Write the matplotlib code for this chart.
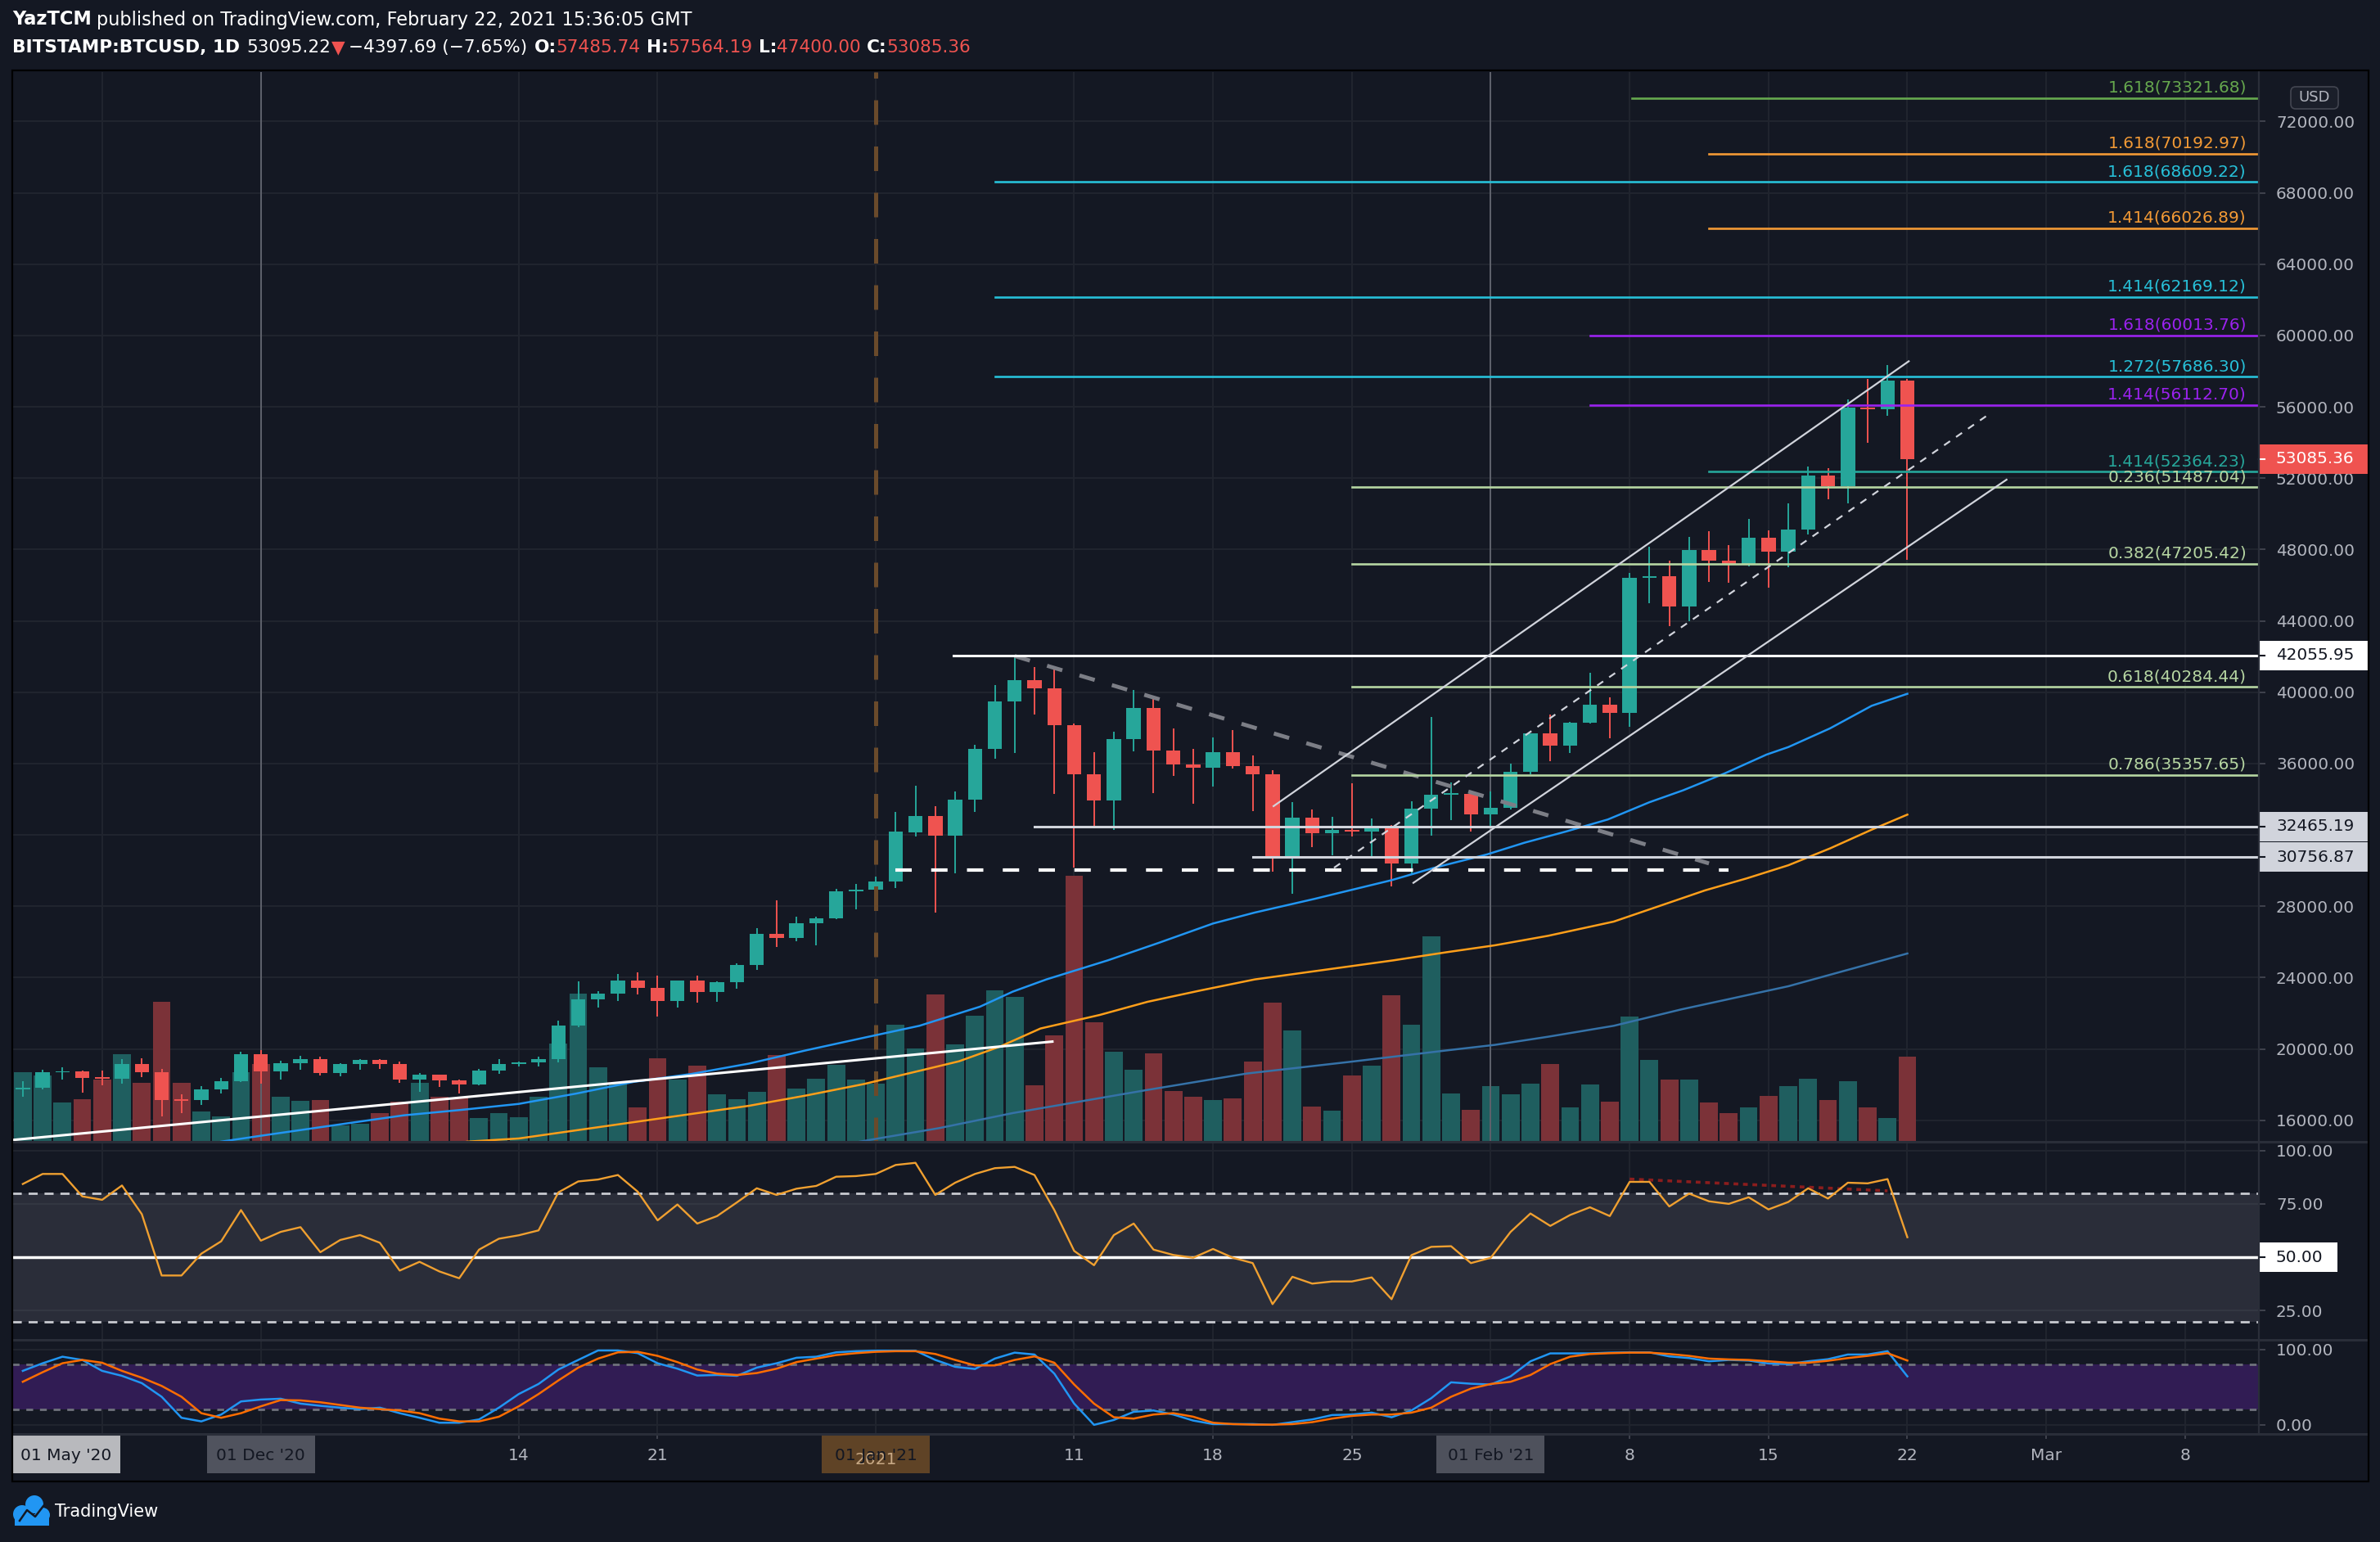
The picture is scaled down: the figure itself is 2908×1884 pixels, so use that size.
import numpy as np
import pandas as pd
import matplotlib
matplotlib.use("Agg")
import matplotlib.pyplot as plt
import matplotlib.transforms as mtransforms
from matplotlib.patches import Rectangle, FancyBboxPatch, Circle
from matplotlib.lines import Line2D

# ------------------------------------------------------------------ data
start_date = "2020-11-19"
end_date = "2021-02-22"
ref_date = "2021-01-01"

opens = [17780, 17802, 18687, 18750, 18382, 18336, 19145, 18715, 17145, 17115, 17725, 18183,
         19695, 18748, 19210, 19420, 18657, 19145, 19374, 19170, 18290, 18534, 18230, 18015, 18800, 19145, 19267, 19420,
         21330, 22790, 23110, 23817, 23430, 22672, 23817, 23176, 23725, 24687, 26440, 26198, 27023, 27343, 28855,
         28947, 29380, 32150, 33050, 31950, 33990, 36820, 39500, 40670, 40230, 38150, 35400, 33950, 37380, 39130, 36730,
         35943, 35760, 36640, 35860, 35420, 30800, 32980, 32080, 32260, 32200, 32430, 30400, 33460, 34250, 34300,
         33135, 33515, 35530, 37680, 36985, 38310, 39300, 38830, 46410, 46500, 44810, 47966, 47380, 47200, 48640, 47880,
         49125, 52150, 51560, 55960, 55880, 57486]
highs = [18183, 18825, 18977, 18780, 18780, 19405, 19466, 18900, 17450, 17908, 18366, 19832,
         19924, 19328, 19619, 19557, 19206, 19420, 19420, 19283, 18641, 18570, 18290, 18871, 19405, 19300, 19557, 21573,
         23770, 23252, 24183, 24275, 24092, 23830, 24092, 23770, 24779, 26779, 28351, 27435, 27400, 28992, 29267,
         29680, 33300, 34760, 33620, 34450, 37030, 40400, 42055, 41410, 41470, 38220, 36630, 37780, 40135, 39750, 37955,
         36800, 37450, 37860, 36430, 35605, 33854, 33440, 33010, 34900, 32930, 32565, 33860, 38600, 34920, 34330,
         34420, 35980, 37700, 38735, 38330, 41066, 39720, 46705, 48177, 47380, 48703, 49020, 48240, 49713, 49060, 50575,
         52637, 52553, 56424, 57540, 58338, 57564]
lows = [17328, 17725, 18290, 17542, 17954, 18030, 18412, 16200, 16412, 16840, 17500, 18153,
        18061, 18290, 18825, 18519, 18458, 18840, 18886, 18107, 17603, 17878, 17496, 17970, 18611, 19000, 19023, 19252,
        21237, 22305, 22672, 23038, 21802, 22305, 22580, 22641, 23374, 24412, 25695, 26015, 25786, 27252, 27847,
        28620, 29000, 31920, 27650, 29850, 33270, 36260, 36600, 38750, 34300, 30185, 32455, 32257, 36680, 34330, 35298,
        33760, 34730, 35700, 33350, 29950, 28694, 31336, 30875, 31890, 30735, 29130, 29845, 31960, 32830, 32190,
        32400, 33410, 35400, 36140, 36600, 38250, 37405, 38038, 44980, 43717, 43970, 46180, 46115, 47060, 45860, 47000,
        48850, 50806, 50596, 53960, 55477, 47400]
closes = [17802, 18687, 18750, 18382, 18336, 19145, 18715, 17145, 17115, 17725, 18183, 19695,
          18748, 19210, 19420, 18657, 19145, 19374, 19170, 18290, 18534, 18230, 18015, 18800, 19145, 19267, 19420, 21330,
          22790, 23110, 23817, 23430, 22672, 23817, 23176, 23725, 24687, 26440, 26198, 27023, 27343, 28855, 28947,
          29380, 32200, 33050, 31950, 33990, 36820, 39500, 40670, 40230, 38150, 35400, 33950, 37380, 39130, 36730, 35943,
          35760, 36640, 35860, 35420, 30800, 32980, 32080, 32260, 32200, 32430, 30400, 33460, 34250, 34320, 33135,
          33515, 35530, 37680, 36985, 38310, 39300, 38830, 46410, 46500, 44810, 47966, 47380, 47200, 48640, 47880, 49125,
          52150, 51560, 55960, 55880, 57486, 53085]
volumes = [46.0, 43.8, 26.1, 28.2, 41.2, 57.9, 39.0, 92.4, 39.0, 20.1, 16.9, 46.0,
           51.4, 29.8, 27.1, 27.7, 11.0, 11.7, 19.0, 26.6, 39.0, 29.8, 29.3, 15.8, 19.0, 16.4, 29.8, 64.9,
           97.8, 49.2, 38.5, 22.8, 55.2, 41.2, 50.3, 31.4, 28.2, 33.1, 57.3, 35.2, 41.7, 50.9, 41.2,
           38.5, 77.3, 61.6, 97.2, 64.3, 83.2, 99.9, 95.6, 37.4, 70.3, 175.4, 78.9, 59.5, 47.6, 58.4, 33.6,
           29.8, 27.7, 28.8, 53.0, 91.8, 73.5, 23.4, 20.7, 43.8, 50.3, 96.7, 77.3, 135.5, 32.0, 21.2,
           36.8, 31.4, 38.5, 51.4, 22.8, 37.9, 26.6, 82.7, 54.1, 41.2, 41.2, 26.1, 19.0, 22.8, 30.4, 36.8,
           41.7, 27.7, 40.1, 22.8, 15.8, 56.2]
rsi = [84.3, 89.0, 89.0, 78.5, 76.9, 83.6, 70.2, 41.5, 41.5, 51.7, 57.5, 72.1,
       57.8, 61.9, 64.1, 52.4, 58.1, 60.4, 56.8, 43.8, 47.9, 43.4, 40.2, 53.6, 58.7, 60.3, 62.6, 80.4,
       85.5, 86.4, 88.5, 80.7, 67.3, 74.7, 65.8, 69.3, 75.7, 82.3, 79.2, 82.1, 83.4, 87.7, 88.0,
       89.0, 93.2, 94.2, 79.2, 84.9, 89.0, 91.7, 92.3, 88.5, 72.1, 53.0, 46.3, 60.4, 65.8, 53.6, 51.1,
       49.8, 53.9, 49.8, 47.3, 28.1, 40.9, 37.7, 38.7, 38.7, 40.6, 30.4, 51.0, 54.9, 55.2, 47.3,
       49.8, 61.9, 70.5, 64.7, 69.8, 73.4, 69.3, 85.3, 85.3, 73.8, 79.8, 76.2, 75.0, 78.1, 72.4, 75.9,
       82.3, 77.5, 84.9, 84.6, 86.6, 59.4]
stoch_k = [71.7, 81.8, 90.5, 86.2, 71.7, 65.1, 55.4, 37.3, 9.4, 4.6, 13.7, 31.1,
           33.6, 34.7, 28.2, 25.3, 22.8, 20.9, 22.8, 15.5, 9.4, 2.8, 2.8, 7.2, 22.8, 40.9, 54.3, 73.5,
           86.2, 98.8, 98.8, 95.2, 81.8, 74.6, 65.5, 66.2, 65.1, 76.0, 81.8, 89.1, 90.5, 96.3, 97.8,
           98.5, 98.5, 98.5, 86.2, 77.1, 74.2, 88.0, 95.9, 93.4, 68.0, 28.2, 0.0, 6.5, 17.3, 19.1, 13.7,
           5.7, 1.0, 1.0, 1.0, 0.0, 3.6, 7.2, 13.0, 13.7, 16.2, 10.1, 19.1, 35.4, 56.5, 54.6,
           53.6, 64.4, 84.4, 94.9, 94.9, 94.9, 95.9, 96.3, 96.3, 90.9, 88.7, 84.4, 86.2, 85.4, 81.5, 80.7,
           84.4, 87.2, 93.4, 93.4, 97.8, 64.4]
stoch_d = [57.2, 69.9, 81.8, 86.2, 82.5, 71.7, 62.6, 51.7, 37.3, 15.5, 9.4, 15.5,
           24.6, 32.9, 32.5, 30.0, 26.4, 22.8, 20.9, 19.1, 15.5, 8.3, 4.6, 4.6, 10.8, 24.6, 40.9, 59.0,
           76.0, 88.0, 96.3, 97.0, 91.6, 83.3, 73.5, 68.0, 66.2, 68.8, 74.6, 83.3, 88.0, 92.7, 95.2,
           97.0, 97.8, 97.8, 94.1, 86.2, 78.9, 78.9, 86.2, 90.9, 82.5, 53.6, 28.2, 10.1, 8.3, 13.7, 15.5,
           10.8, 2.8, 1.0, 0.3, 0.3, 1.0, 3.6, 8.3, 11.9, 13.7, 13.7, 16.2, 22.8, 37.3, 48.1,
           54.3, 57.2, 66.2, 80.7, 90.5, 94.1, 95.2, 95.9, 95.9, 94.1, 91.6, 88.0, 86.9, 86.2, 84.4, 82.5,
           82.5, 85.1, 88.7, 91.6, 95.2, 85.4]

# moving averages (day offset from 2021-01-01, value)
ma50_day = [-33.0, -31.0, -26.7, -23.8, -20.9, -18.0, -15.1, -12.2, -9.3, -6.4, -3.5, -0.6, 2.2, 5.25, 6.9, 8.6,
            11.7, 14.3, 17.0, 19.1, 22.1, 23.8, 26.0, 28.1, 30.8, 32.7, 34.8, 36.9, 39.0, 40.7, 42.8, 44.9, 46.0,
            48.1, 50.2, 52.0]
ma50_val = [14800, 15130, 15817, 16275, 16580, 16916, 17496, 18152, 18595, 19175, 19924, 20626, 21296, 22366, 23208,
            23896, 24966, 25960, 27031, 27643, 28407, 28866, 29460, 30140, 30900, 31560, 32190, 32862, 33830, 34500,
            35450, 36500, 36922, 37970, 39236, 39910]
ma100_day = [-20.6, -18.0, -15.1, -12.2, -9.3, -6.4, -3.5, -0.6, 2.2, 4.2, 6.3, 8.3, 11.3, 13.7, 16.4, 19.1, 22.1,
             26.1, 28.8, 31.2, 33.9, 37.2, 39.7, 41.8, 43.9, 46.0, 48.1, 50.2, 52.0]
ma100_val = [14800, 14977, 15435, 15893, 16351, 16809, 17390, 18030, 18772, 19307, 20149, 21143, 21907, 22641, 23284,
             23895, 24354, 24966, 25425, 25807, 26343, 27138, 28087, 28887, 29560, 30296, 31240, 32290, 33135]
ma200_day = [-0.8, 0.2, 3.2, 6.9, 11.3, 13.7, 18.7, 23.8, 28.8, 31.2, 33.9, 37.2, 40.6, 46.0, 52.0]
ma200_val = [14800, 14994, 15560, 16401, 17243, 17701, 18619, 19261, 19919, 20225, 20684, 21295, 22213, 23513, 25349]

# Fibonacci levels: label, price, start day, colour
fib_labels = ["1.618(73321.68)", "1.618(70192.97)", "1.618(68609.22)", "1.414(66026.89)", "1.414(62169.12)",
              "1.618(60013.76)", "1.272(57686.30)", "1.414(56112.70)", "1.414(52364.23)", "0.236(51487.04)",
              "0.382(47205.42)", "0.618(40284.44)", "0.786(35357.65)"]
fib_prices = [73321.68, 70192.97, 68609.22, 66026.89, 62169.12, 60013.76, 57686.30, 56112.70, 52364.23,
              51487.04, 47205.42, 40284.44, 35357.65]
fib_start = [38.1, 42, 6, 42, 6, 36, 6, 36, 42, 24, 24, 24, 24]
fib_colors = ["#66a84e", "#f39a35", "#27c0d8", "#f39a35", "#27c0d8", "#9b22ef", "#27c0d8", "#9b22ef", "#26a69a",
              "#b6d6a2", "#b6d6a2", "#b6d6a2", "#b6d6a2"]

# horizontal support / resistance lines: price, start day
sr_prices = [42055.95, 32465.19, 30756.87]
sr_start = [3.9, 8.0, 19.0]
support_dash = (1.0, 43.0, 30050)           # start day, end day, price
desc_trend = ([7.0, 42.0], [42025, 30400])
lower_left_trend = ([-43.5, 8.9], [14894, 20410])
channel_upper = ([20.05, 52.07], [33610, 58553])
channel_mid = ([23.1, 56.1], [30155, 55574])
channel_lower = ([27.1, 57.0], [29311, 51915])
rsi_div = ([38, 51], [86.6, 81.1])

last_price = 53085.36
price_ticks = list(range(16000, 72001, 4000))
hidden_ticks = [32000]                       # covered by the 32465.19 label in the reference
tick_days = [-39, -31, -18, -11, 0, 10, 17, 24, 31, 38, 45, 52, 59, 66]
tick_text = ["", "", "14", "21", "", "11", "18", "25", "", "8", "15", "22", "Mar", "8"]

# ------------------------------------------------------------------ layout
W, H, DPI = 2908, 1884, 100
BG = "#141823"
GRID = "#21252f"
SEP = "#2a2e39"
TXT = "#b2b5be"
UP, DN = "#26a69a", "#ef5350"
VUP, VDN = "#1f5e5f", "#7b3238"
AXFS = 14.4

PL, PR = 15, 2760
MAIN_T, MAIN_B, RSI_B, ST_B = 88, 1395, 1637, 1752
XMIN, XMAX = -43.53, 69.72
PMIN, PMAX = 14793, 74770
px_per_price = (MAIN_B - MAIN_T) / (PMAX - PMIN)
LAB_X = 2781

plt.rcParams["font.family"] = ["DejaVu Sans"]
fig = plt.figure(figsize=(W / DPI, H / DPI), dpi=DPI)
fig.patch.set_facecolor(BG)


def rect(top, bottom):
    return [PL / W, 1 - bottom / H, (PR - PL) / W, (bottom - top) / H]


ax_g = fig.add_axes(rect(MAIN_T, MAIN_B), label="grid")
ax_v = fig.add_axes(rect(MAIN_T, MAIN_B), label="vol")
ax = fig.add_axes(rect(MAIN_T, MAIN_B), label="main")
ax_r = fig.add_axes(rect(MAIN_B, RSI_B), label="rsi")
ax_s = fig.add_axes(rect(RSI_B, ST_B), label="stoch")
ax_g.set_zorder(1)
ax_v.set_zorder(2)
ax.set_zorder(3)
ax_v.patch.set_visible(False)
ax.patch.set_visible(False)
for a in (ax_g, ax_v, ax, ax_r, ax_s):
    a.set_xlim(XMIN, XMAX)
    for sp in a.spines.values():
        sp.set_visible(False)
    a.set_facecolor(BG)
for a in (ax_g, ax_v):
    a.set_xticks([])
    a.set_yticks([])
ax_g.set_ylim(PMIN, PMAX)

TICK_LEN = 5.5
TICK_PAD = (LAB_X - PR) * 72 / DPI - TICK_LEN

# grid
for p in price_ticks:
    ax_g.axhline(p, color=GRID, lw=1.4)
for d in tick_days:
    for a in (ax_g, ax_r, ax_s):
        a.axvline(d, color=GRID, lw=1.4, zorder=0)

dates = pd.date_range(start_date, end_date, freq="D")
x = np.asarray((dates - pd.Timestamp(ref_date)).days, dtype=float)
o, h, l, c = map(np.asarray, (opens, highs, lows, closes))
up = c >= o
col = np.where(up, UP, DN)

# volume
ax_v.bar(x, volumes, width=0.9, color=np.where(up, VUP, VDN), linewidth=0)
ax_v.set_ylim(0, (MAIN_B - MAIN_T) / 1.8546)

# user vertical lines
ax.axvline(-31, color="#5f626c", lw=1.4, zorder=1)
ax.axvline(31, color="#5f626c", lw=1.4, zorder=1)

# candles
ax.vlines(x, l, h, colors=col, lw=1.4, zorder=3)
mn = 80
raw = np.abs(c - o)
bh = np.maximum(raw, mn)
bb = np.where(raw < mn, (o + c) / 2 - mn / 2, np.minimum(o, c))
ax.bar(x, bh, bottom=bb, width=0.72, color=col, linewidth=0, zorder=4)

# brown dashed Jan 1 line
ax.axvline(0, color="#6a4a2b", lw=3.6, dashes=(6, 5.3), zorder=4.5)

# moving averages
ax.plot(ma200_day, ma200_val, color="#3572a8", lw=1.8, zorder=5)
ax.plot(ma100_day, ma100_val, color="#ff9f1a", lw=1.8, zorder=5)
ax.plot(ma50_day, ma50_val, color="#2196f3", lw=1.8, zorder=5)

# trend lines
ax.plot(*lower_left_trend, color="white", lw=2.2, zorder=6)
ax.plot(*desc_trend, color="#7c7e86", lw=3.5, dashes=(4, 4.5), zorder=6)
ax.plot([support_dash[0], support_dash[1]], [support_dash[2]] * 2, color="white", lw=3, dashes=(4.8, 5.7), zorder=6)
for p, s in zip(sr_prices, sr_start):
    ax.plot([s, XMAX], [p, p], color="white" if p > 40000 else "#d1d4dc", lw=2.2, zorder=6)
ax.plot(*channel_upper, color="#d1d4dc", lw=1.6, zorder=7)
ax.plot(*channel_lower, color="#d1d4dc", lw=1.6, zorder=7)
ax.plot(*channel_mid, color="#d1d4dc", lw=1.6, dashes=(4, 4), zorder=7)

# fib levels
tr_main = mtransforms.blended_transform_factory(ax.transAxes, ax.transData)
for lab, p, s, cl in zip(fib_labels, fib_prices, fib_start, fib_colors):
    ax.plot([s, XMAX], [p, p], color=cl, lw=1.9, zorder=6)
    ax.text(0.9945, p + 3 / px_per_price, lab, color=cl, fontsize=14.5, ha="right", va="bottom",
            transform=tr_main, zorder=8)

ax.set_ylim(PMIN, PMAX)
ax.set_xlim(XMIN, XMAX)
ax.xaxis.set_visible(False)
ax.yaxis.tick_right()
ax.set_yticks(price_ticks)
ax.set_yticklabels(["" if v in hidden_ticks else f"{v:.2f}" for v in price_ticks])
ax.tick_params(axis="y", colors="#434651", labelcolor=TXT, labelsize=AXFS, length=TICK_LEN, width=1.3,
               pad=TICK_PAD)

# price label boxes
BX1 = (2893 - PL) / (PR - PL)
BXT = (LAB_X - PL) / (PR - PL)
box_h = 36 / px_per_price


def price_box(a, y, text, fc, tc, hgt, right=BX1):
    tr = mtransforms.blended_transform_factory(a.transAxes, a.transData)
    a.add_patch(Rectangle((1.0, y - hgt / 2), right - 1.0, hgt, transform=tr, facecolor=fc,
                          edgecolor="none", clip_on=False, zorder=20))
    a.plot([1.0, 1.0 + 7 / (PR - PL)], [y, y], transform=tr, color=tc, lw=1.5, clip_on=False, zorder=21)
    a.text(BXT, y, text, transform=tr, color=tc, fontsize=AXFS, va="center", ha="left", clip_on=False, zorder=22)


price_box(ax, last_price, f"{last_price:.2f}", "#ef5350", "white", box_h)
price_box(ax, sr_prices[0], f"{sr_prices[0]:.2f}", "#ffffff", "#131722", box_h)
price_box(ax, sr_prices[1], f"{sr_prices[1]:.2f}", "#d1d4dc", "#131722", box_h)
price_box(ax, sr_prices[2], f"{sr_prices[2]:.2f}", "#d1d4dc", "#131722", box_h)
ax.set_ylim(PMIN, PMAX)

# ------------------------------------------------------------------ RSI pane
RMIN, RMAX = 11.4, 104.05
ax_r.axhspan(20, 80, color="#2a2d39", lw=0, zorder=0.5)
for v in (100, 75, 25):
    ax_r.axhline(v, color=GRID if v == 100 else "#343843", lw=1.4, zorder=0.6)
ax_r.axhline(80, color="#c8cad0", lw=2, dashes=(4, 3), zorder=1)
ax_r.axhline(20, color="#c8cad0", lw=2, dashes=(4, 3), zorder=1)
ax_r.axhline(50, color="white", lw=2.5, zorder=1)
ax_r.plot(x, rsi, color="#f0a030", lw=1.7, zorder=3)
ax_r.plot(*rsi_div, color="#8b1d1d", lw=2.6, dashes=(1.6, 1.6), zorder=2)
ax_r.set_ylim(RMIN, RMAX)
ax_r.xaxis.set_visible(False)
ax_r.yaxis.tick_right()
ax_r.set_yticks([25, 75, 100])
ax_r.set_yticklabels(["25.00", "75.00", "100.00"])
ax_r.tick_params(axis="y", colors="#434651", labelcolor=TXT, labelsize=AXFS, length=TICK_LEN, width=1.3,
                 pad=TICK_PAD)
rsi_px = (RSI_B - MAIN_B) / (RMAX - RMIN)
price_box(ax_r, 50, "50.00", "#ffffff", "#131722", 36 / rsi_px, right=(2856 - PL) / (PR - PL))
ax_r.set_ylim(RMIN, RMAX)

# ------------------------------------------------------------------ Stoch RSI pane
SMIN, SMAX = -12.1, 112.9
ax_s.axhspan(20, 80, color="#311c54", lw=0, zorder=0.5)
ax_s.axhline(100, color=GRID, lw=1.4, zorder=0.6)
ax_s.axhline(0, color=GRID, lw=1.4, zorder=0.6)
ax_s.axhline(80, color="#6f727c", lw=2, dashes=(3, 3), zorder=1)
ax_s.axhline(20, color="#6f727c", lw=2, dashes=(3, 3), zorder=1)
ax_s.plot(x, stoch_k, color="#2196f3", lw=1.8, zorder=3)
ax_s.plot(x, stoch_d, color="#ff6d00", lw=1.8, zorder=3)
ax_s.set_ylim(SMIN, SMAX)
ax_s.yaxis.tick_right()
ax_s.set_yticks([0, 100])
ax_s.set_yticklabels(["0.00", "100.00"])
ax_s.tick_params(axis="y", colors="#434651", labelcolor=TXT, labelsize=AXFS, length=TICK_LEN, width=1.3,
                 pad=TICK_PAD)
ax_s.set_xticks(tick_days)
ax_s.set_xticklabels([])
ax_s.tick_params(axis="x", colors="#434651", length=4.5, width=1.3, direction="out")

# time-axis labels
tr_t = mtransforms.blended_transform_factory(ax_s.transData, ax_s.transAxes)
sh = ST_B - RSI_B
ylab = -(1778 - ST_B) / sh
for d, t in zip(tick_days, tick_text):
    if t:
        ax_s.text(d, ylab, t, transform=tr_t, color=TXT, fontsize=14.5, ha="center", va="center", clip_on=False)
day_px = 13.07 * 1.8546
bw = 132 / day_px
ytop, ybot = -(1754 - ST_B) / sh, -(1800 - ST_B) / sh


def time_box(center, fc, text, ghost=None, ghost_col=None):
    ax_s.add_patch(Rectangle((center - bw / 2, ybot), bw, ytop - ybot, transform=tr_t, facecolor=fc,
                             edgecolor="none", clip_on=False, zorder=10))
    if ghost:
        ax_s.text(center, ylab - 0.05, ghost, transform=tr_t, color=ghost_col, fontsize=14.5, ha="center",
                  va="center", clip_on=False, zorder=11)
    ax_s.text(center, ylab, text, transform=tr_t, color="#131722", fontsize=14.5, ha="center", va="center",
              clip_on=False, zorder=12)


time_box(XMIN + bw / 2, "#b8b9bd", "01 May '20")
time_box(-31, "#50535e", "01 Dec '20")
time_box(0, "#5f4326", "01 Jan '21", "2021", "#c8a985")
time_box(31, "#4e515c", "01 Feb '21")

# ------------------------------------------------------------------ separators and frame
ident = mtransforms.IdentityTransform()


def hline_px(y, x0, x1, color, lw):
    fig.add_artist(Line2D([x0, x1], [H - y, H - y], transform=ident, color=color, lw=lw, zorder=30))


def vline_px(xp, y0, y1, color, lw):
    fig.add_artist(Line2D([xp, xp], [H - y0, H - y1], transform=ident, color=color, lw=lw, zorder=30))


hline_px(MAIN_B, PL, 2893, SEP, 2.2)
hline_px(RSI_B, PL, 2893, SEP, 2.2)
hline_px(ST_B, PL, 2893, SEP, 2.2)
vline_px(PR, MAIN_T, ST_B, SEP, 1.6)
fig.add_artist(Rectangle((PL, H - 1810), 2894 - PL, 1810 - 86, transform=ident, fill=False,
                         edgecolor="#000000", lw=1.6, zorder=31))

# USD badge
fig.add_artist(FancyBboxPatch((2799, H - 133), 58, 27, boxstyle="round,pad=0,rounding_size=6", transform=ident,
                              facecolor="#1b1f2a", edgecolor="#434651", lw=1.2, zorder=32))
fig.text(2828 / W, 1 - 119 / H, "USD", color=TXT, fontsize=13, ha="center", va="center", zorder=33)

# ------------------------------------------------------------------ header
renderer = fig.canvas.get_renderer()


def chain(y_px, pieces, right_px, base=15.0):
    def place(size):
        arts = []
        xp = PL
        for txt, cl, bold, gap in pieces:
            t = fig.text(xp / W, 1 - y_px / H, txt, color=cl, fontsize=size,
                         fontweight="bold" if bold else "normal", ha="left", va="center")
            e = t.get_window_extent(renderer)
            xp = e.x1 + gap
            arts.append(t)
        return arts, xp

    arts, xr = place(base)
    scale = (right_px - PL) / (xr - PL)
    for a in arts:
        a.remove()
    place(base * scale)


WHITE = "#ffffff"
chain(24, [("YazTCM", WHITE, True, 6),
           ("published on TradingView.com, February 22, 2021 15:36:05 GMT", WHITE, False, 0)], 849)
chain(58, [("BITSTAMP:BTCUSD, 1D", WHITE, True, 8), ("53095.22", WHITE, False, 1), ("\u25bc", DN, False, 5),
           ("\u22124397.69 (\u22127.65%)", WHITE, False, 8),
           ("O:", WHITE, True, 0), ("57485.74", DN, False, 7),
           ("H:", WHITE, True, 0), ("57564.19", DN, False, 7),
           ("L:", WHITE, True, 0), ("47400.00", DN, False, 7),
           ("C:", WHITE, True, 0), ("53085.36", DN, False, 0)], 1193)

# TradingView logo
LOGO = "#2196f3"
for cx, cy, r in [(42, 1838, 11), (27, 1850, 11), (52, 1851, 9)]:
    fig.add_artist(Circle((cx, H - cy), r, transform=ident, facecolor=LOGO, edgecolor="none", zorder=32))
fig.add_artist(Rectangle((18, H - 1864), 42, 14, transform=ident, facecolor=LOGO, edgecolor="none", zorder=32))
fig.add_artist(Line2D([24, 33, 43, 53], [H - 1858, H - 1845, H - 1853, H - 1840], transform=ident,
                      color="#141823", lw=1.8, zorder=33))
fig.text(67 / W, 1 - 1847 / H, "TradingView", color=WHITE, fontsize=15, ha="left", va="center")

fig.savefig("out.png", dpi=DPI, facecolor=BG)
